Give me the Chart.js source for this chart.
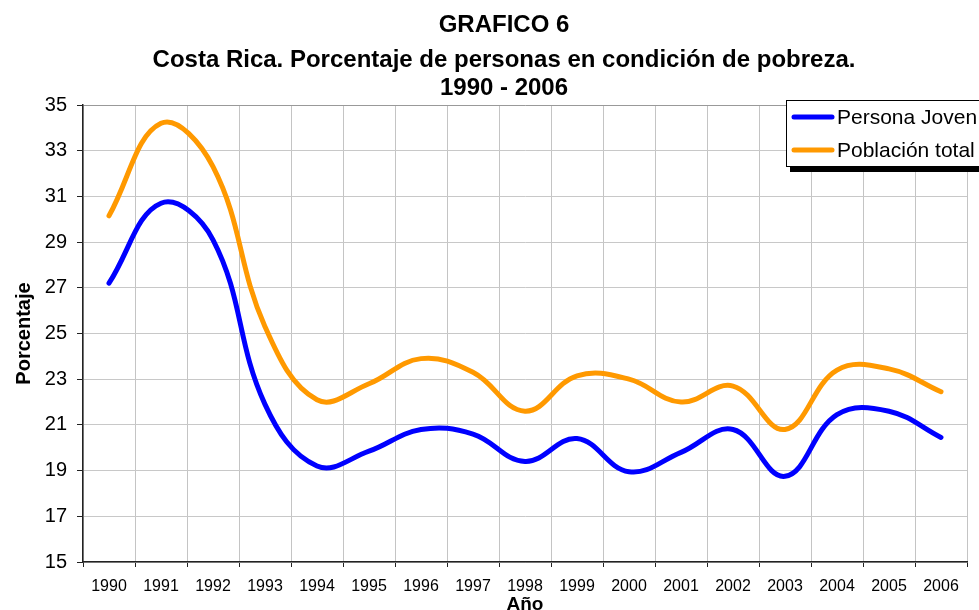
<!DOCTYPE html>
<html lang="es">
<head>
  <meta charset="UTF-8" />
  <title>Gráfico 6 - Pobreza Costa Rica</title>
  <style>
    html, body { margin: 0; padding: 0; background: #fff; overflow: hidden; }
    #wrap { width: 979px; height: 610px; position: relative; }
  </style>
</head>
<body>
  <div id="wrap"><canvas id="chart"></canvas></div>

  <script src="https://cdn.jsdelivr.net/npm/chart.js"></script>
  <script>
    const years = ["1990", "1991", "1992", "1993", "1994", "1995", "1996", "1997", "1998",
                   "1999", "2000", "2001", "2002", "2003", "2004", "2005", "2006"];
    const personaJoven = [27.2, 30.7, 29.1, 21.9, 19.2, 19.85, 20.8, 20.6, 19.4,
                          20.4, 18.95, 19.8, 20.8, 18.75, 21.45, 21.6, 20.45];
    const poblacionTotal = [30.15, 34.2, 32.3, 25.3, 22.1, 22.8, 23.9, 23.3, 21.6,
                            23.15, 23.0, 22.0, 22.7, 20.8, 23.4, 23.45, 22.45];
    const yMin = 15, yMax = 35, yStep = 2;

    Chart.defaults.font.family = "'Liberation Sans', Arial, sans-serif";
    Chart.defaults.color = "#000";

    // legend box drawn over the plot, like the excel one (with shadow)
    const legendBox = {
      id: "legendBox",
      afterDraw(chart) {
        const ctx = chart.ctx;
        const x = 786, y = 100, w = 200, h = 66;
        ctx.save();
        ctx.fillStyle = "#000";
        ctx.fillRect(x + 4, y + 4, w, h + 2);
        ctx.fillStyle = "#fff";
        ctx.fillRect(x, y, w, h);
        ctx.strokeStyle = "#000";
        ctx.lineWidth = 1;
        ctx.strokeRect(x + 0.5, y + 0.5, w, h);
        chart.data.datasets.forEach((ds, i) => {
          const ly = y + 17 + i * 33;
          ctx.strokeStyle = ds.borderColor;
          ctx.lineWidth = 5;
          ctx.lineCap = "round";
          ctx.beginPath();
          ctx.moveTo(x + 8, ly);
          ctx.lineTo(x + 46, ly);
          ctx.stroke();
          ctx.fillStyle = "#000";
          ctx.font = "21px 'Liberation Sans', Arial, sans-serif";
          ctx.textBaseline = "middle";
          ctx.textAlign = "left";
          ctx.fillText(ds.label, x + 51, ly + 1);
        });
        ctx.restore();
      }
    };

    new Chart(document.getElementById("chart"), {
      type: "line",
      data: {
        labels: years,
        datasets: [
          { label: "Persona Joven", data: personaJoven, borderColor: "#0000ff", backgroundColor: "#0000ff",
            borderWidth: 5, pointRadius: 0, tension: 0.4, borderJoinStyle: "round", borderCapStyle: "round" },
          { label: "Población total", data: poblacionTotal, borderColor: "#ff9900", backgroundColor: "#ff9900",
            borderWidth: 5, pointRadius: 0, tension: 0.4, borderJoinStyle: "round", borderCapStyle: "round" }
        ]
      },
      options: {
        responsive: true,
        maintainAspectRatio: false,
        animation: false,
        layout: { padding: { left: 41, right: 12, top: 0, bottom: 0 } },
        plugins: {
          legend: { display: false },
          tooltip: { enabled: false },
          title: {
            display: true, text: "GRAFICO 6", color: "#000",
            font: { size: 24, weight: "bold", lineHeight: 1 },
            padding: { top: 13, bottom: 0 }
          },
          subtitle: {
            display: true,
            text: ["Costa Rica. Porcentaje de personas en condición de pobreza.", "1990 - 2006"],
            color: "#000",
            font: { size: 24, weight: "bold", lineHeight: 28 / 24 },
            padding: { top: 9, bottom: 3 }
          }
        },
        scales: {
          x: {
            offset: true,
            grid: {
              offset: true,
              color: c => c.index === years.length ? "#808080" : "#c4c4c4",
              tickLength: 5,
              tickColor: "#222"
            },
            border: { color: "#222", width: 1.5 },
            ticks: { font: { size: 16 }, color: "#000", padding: 10, maxRotation: 0, autoSkip: false },
            title: { display: true, text: "Año", color: "#000", font: { size: 19, weight: "bold" }, padding: { top: 0, bottom: -6 } },
            afterFit(s) { s.height = 48; }
          },
          y: {
            min: yMin, max: yMax,
            ticks: { stepSize: yStep, font: { size: 20 }, color: "#000", padding: 10 },
            grid: {
              color: c => c.tick && c.tick.value === yMax ? "#999" : "#c8c8c8",
              tickLength: 6,
              tickColor: "#222"
            },
            border: { color: "#222", width: 1.5 },
            title: { display: true, text: "Porcentaje", color: "#000", font: { size: 20, weight: "bold" }, padding: { top: -29 } },
            afterFit(s) { s.width = 42; }
          }
        }
      },
      plugins: [legendBox]
    });
  </script>
</body>
</html>
